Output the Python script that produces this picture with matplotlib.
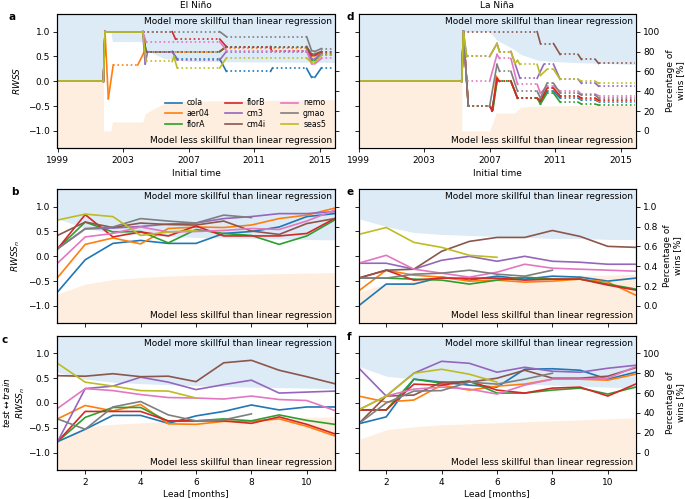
import matplotlib.pyplot as plt
import numpy as np
from matplotlib.lines import Line2D

# ---------------------------------------------------------------- data
models = ["cola", "aer04", "florA", "florB", "cm3", "cm4i", "nemo", "gmao", "seas5"]
colors = ["C0", "C1", "C2", "C3", "C4", "C5", "C6", "C7", "C8"]
leads = np.arange(1, 12)

# panel a: El Nino RWSS vs initial time, breakpoints (year, value)
nino_cola = [(1999, 0), (2001.8, 0), (2001.9, 1), (2004.2, 1), (2004.4, 0.6), (2006.0, 0.6), (2006.3, 0.45),
             (2008.9, 0.45), (2009.3, 0.2), (2012.0, 0.2), (2012.1, 0.26), (2014.2, 0.26), (2014.5, 0.08),
             (2014.7, 0.08), (2015.1, 0.27), (2015.9, 0.27)]
nino_aer04 = [(1999, 0), (2001.8, 0), (2001.9, 1), (2002.1, -0.35), (2002.4, 0.33), (2003.9, 0.33),
              (2004.3, 0.6), (2008.9, 0.6), (2009.2, 0.67), (2014.2, 0.67), (2014.5, 0.5), (2015.1, 0.55),
              (2015.9, 0.55)]
nino_florA = [(1999, 0), (2001.8, 0), (2001.9, 1), (2004.2, 1), (2004.4, 0.6), (2008.9, 0.6), (2009.3, 0.7),
              (2014.2, 0.7), (2014.5, 0.42), (2014.7, 0.42), (2015.1, 0.53), (2015.9, 0.53)]
nino_florB = [(1999, 0), (2001.8, 0), (2001.9, 1), (2004.2, 1), (2006.0, 1), (2006.2, 0.85), (2008.9, 0.85),
              (2009.3, 0.7), (2012.0, 0.7), (2012.05, 0.62), (2014.2, 0.62), (2014.5, 0.52), (2014.7, 0.52),
              (2015.1, 0.6), (2015.9, 0.6)]
nino_cm3 = [(1999, 0), (2001.8, 0), (2001.9, 1), (2004.2, 1), (2004.35, 0.35), (2004.5, 0.6), (2006.0, 0.6),
            (2006.3, 0.43), (2008.9, 0.43), (2009.3, 0.6), (2014.2, 0.6), (2014.5, 0.45), (2014.7, 0.45),
            (2015.1, 0.56), (2015.9, 0.56)]
nino_cm4i = [(1999, 0), (2001.8, 0), (2001.9, 1), (2004.2, 1), (2004.4, 0.6), (2008.9, 0.6), (2009.3, 0.7),
             (2014.2, 0.7), (2014.5, 0.55), (2014.7, 0.55), (2015.1, 0.6), (2015.9, 0.6)]
nino_nemo = [(1999, 0), (2001.8, 0), (2001.9, 1), (2004.2, 1), (2004.4, 0.8), (2008.9, 0.8), (2009.3, 0.62),
             (2014.2, 0.62), (2014.5, 0.35), (2014.7, 0.35), (2015.1, 0.46), (2015.9, 0.46)]
nino_gmao = [(1999, 0), (2001.8, 0), (2001.9, 1), (2004.2, 1), (2008.9, 1), (2009.3, 0.9), (2014.2, 0.9),
             (2014.5, 0.62), (2014.7, 0.6), (2015.1, 0.66), (2015.9, 0.66)]
nino_seas5 = [(1999, 0), (2001.8, 0), (2001.9, 1), (2004.2, 1), (2004.4, 0.4), (2006.0, 0.4), (2006.1, 0.5),
              (2006.3, 0.27), (2008.9, 0.27), (2009.3, 0.47), (2014.2, 0.47), (2014.5, 0.38), (2014.7, 0.38),
              (2015.1, 0.52), (2015.9, 0.52)]

# panel d: La Nina percentage of wins vs initial time
nina_cola = [(1999, 50), (2005.3, 50), (2005.4, 100), (2005.7, 25), (2007.0, 25), (2007.15, 22), (2007.45, 50),
             (2008.3, 50), (2008.7, 33), (2009.9, 33), (2010.1, 29), (2010.5, 40), (2010.9, 40), (2011.3, 33),
             (2012.4, 33), (2012.6, 31), (2013.45, 31), (2013.65, 29.5), (2015.9, 29.5)]
nina_aer04 = [(1999, 50), (2005.3, 50), (2005.4, 100), (2005.7, 25), (2007.0, 25), (2007.2, 22), (2007.4, 55),
              (2007.6, 50), (2008.3, 50), (2008.7, 33), (2009.9, 33), (2010.1, 31), (2010.5, 43), (2010.9, 43),
              (2011.3, 35), (2012.4, 35), (2012.6, 32), (2013.45, 32), (2013.65, 30), (2015.9, 30)]
nina_florA = [(1999, 50), (2005.3, 50), (2005.4, 100), (2005.7, 25), (2007.0, 25), (2007.2, 21), (2007.45, 50),
              (2008.3, 50), (2008.7, 33), (2009.9, 33), (2010.1, 27), (2010.5, 38), (2010.9, 38), (2011.3, 29),
              (2012.4, 29), (2012.6, 27), (2013.45, 27), (2013.65, 26), (2015.9, 26)]
nina_florB = [(1999, 50), (2005.3, 50), (2005.4, 100), (2005.7, 25), (2007.0, 25), (2007.15, 20), (2007.45, 53),
              (2007.6, 50), (2008.3, 50), (2008.7, 33), (2009.9, 33), (2010.1, 30), (2010.5, 43), (2010.9, 43),
              (2011.3, 35), (2012.4, 35), (2012.6, 33), (2013.45, 33), (2013.65, 31), (2015.9, 31)]
nina_cm3 = [(1999, 50), (2005.3, 50), (2005.4, 100), (2005.6, 75), (2007.0, 75), (2007.45, 88), (2007.6, 80),
            (2008.3, 80), (2008.85, 53), (2009.9, 53), (2010.3, 67), (2010.9, 67), (2011.3, 52), (2012.4, 52),
            (2012.6, 48), (2013.45, 48), (2013.65, 45), (2015.9, 45)]
nina_cm4i = [(1999, 50), (2005.3, 50), (2005.4, 100), (2009.9, 100), (2010.1, 88), (2010.9, 88), (2011.3, 77),
             (2012.4, 77), (2012.6, 72), (2013.45, 72), (2013.65, 68), (2015.9, 68)]
nina_nemo = [(1999, 50), (2005.3, 50), (2005.4, 100), (2005.6, 50), (2007.0, 50), (2007.45, 77), (2007.6, 73),
             (2008.3, 73), (2008.7, 47), (2009.9, 47), (2010.1, 38), (2010.5, 45), (2010.9, 45), (2011.3, 40),
             (2012.4, 40), (2012.6, 37), (2013.45, 37), (2013.65, 35.5), (2015.9, 35.5)]
nina_gmao = [(1999, 50), (2005.3, 50), (2005.4, 100), (2005.7, 25), (2007.0, 25), (2007.45, 67), (2007.6, 60),
             (2008.3, 60), (2008.7, 40), (2009.9, 40), (2010.1, 33), (2010.5, 48), (2010.9, 48), (2011.3, 38),
             (2012.4, 38), (2012.6, 36), (2013.45, 36), (2013.65, 33), (2015.9, 33)]
nina_seas5 = [(1999, 50), (2005.3, 50), (2005.4, 100), (2005.6, 75), (2007.0, 75), (2007.45, 88), (2007.6, 80),
              (2008.3, 80), (2008.55, 68), (2008.7, 71), (2008.85, 67), (2009.9, 67), (2010.1, 56), (2010.5, 62),
              (2010.9, 62), (2011.3, 52), (2012.4, 52), (2012.6, 50), (2013.45, 50), (2013.65, 48), (2015.9, 48)]

# significance bands of panels a and d
nino_band_t = [1999, 2001.8, 2001.8, 2002.25, 2002.35, 2004.2, 2004.35, 2004.9, 2005.5, 2007.0, 2015.9]
nino_band_up = [0, 0, 1.0, 1.0, 0.8, 0.8, 0.63, 0.55, 0.46, 0.4, 0.38]
nino_band_lo = [0, 0, -1.0, -1.0, -0.82, -0.82, -0.65, -0.55, -0.45, -0.4, -0.37]
nina_band_t = [1999, 2005.3, 2005.3, 2007.0, 2007.4, 2008.5, 2008.9, 2010.0, 2012.0, 2015.9]
nina_band_up = [50, 50, 100, 100, 92, 82, 77, 71, 69, 67]
nina_band_lo = [50, 50, 0, 0, 18, 18, 24, 25, 25.5, 26]

# panel b: El Nino RWSS_n vs lead
b_cola = [-0.72, -0.07, 0.26, 0.32, 0.26, 0.26, 0.46, 0.5, 0.59, 0.8, 0.86]
b_aer04 = [-0.43, 0.24, 0.37, 0.25, 0.56, 0.59, 0.58, 0.63, 0.76, 0.83, 0.97]
b_florA = [0.15, 0.69, 0.49, 0.5, 0.27, 0.54, 0.46, 0.42, 0.24, 0.41, 0.73]
b_florB = [0.15, 0.84, 0.39, 0.49, 0.41, 0.61, 0.41, 0.41, 0.41, 0.46, 0.76]
b_cm3 = [0.15, 0.55, 0.57, 0.6, 0.65, 0.67, 0.76, 0.8, 0.86, 0.86, 0.9]
b_cm4i = [0.42, 0.69, 0.58, 0.67, 0.64, 0.63, 0.71, 0.51, 0.44, 0.66, 0.76]
b_nemo = [-0.14, 0.39, 0.46, 0.59, 0.49, 0.5, 0.52, 0.56, 0.54, 0.71, 0.93]
b_gmao = [0.15, 0.56, 0.59, 0.76, 0.71, 0.67, 0.83, 0.78]
b_seas5 = [0.73, 0.85, 0.8, 0.42, 0.49, 0.52]
b_band_up = [0.76, 0.56, 0.47, 0.43, 0.40, 0.38, 0.37, 0.36, 0.35, 0.34, 0.33]
b_band_lo = [-0.76, -0.56, -0.47, -0.43, -0.40, -0.38, -0.37, -0.36, -0.35, -0.34, -0.33]

# panel c: El Nino test<->train RWSS_n vs lead
c_cola = [-0.78, -0.53, -0.25, -0.25, -0.41, -0.26, -0.17, -0.04, -0.14, -0.08, -0.08]
c_aer04 = [-0.32, -0.05, -0.16, -0.03, -0.42, -0.43, -0.37, -0.37, -0.32, -0.47, -0.66]
c_florA = [-0.78, -0.29, -0.09, -0.09, -0.37, -0.36, -0.32, -0.36, -0.24, -0.35, -0.43]
c_florB = [-0.78, -0.17, -0.17, -0.17, -0.36, -0.36, -0.36, -0.41, -0.28, -0.43, -0.62]
c_cm3 = [-0.78, 0.29, 0.34, 0.52, 0.42, 0.27, 0.37, 0.46, 0.2, 0.22, 0.24]
c_cm4i = [0.55, 0.54, 0.59, 0.53, 0.54, 0.43, 0.81, 0.86, 0.66, 0.53, 0.39]
c_nemo = [-0.11, 0.29, 0.25, 0.17, 0.11, 0.1, 0.08, 0.14, 0.07, 0.05, -0.15]
c_gmao = [-0.32, -0.53, -0.08, 0.03, -0.24, -0.36, -0.34, -0.22]
c_seas5 = [0.8, 0.42, 0.34, 0.25, 0.24, 0.1]
c_band_up = [0.62, 0.48, 0.42, 0.39, 0.37, 0.35, 0.33, 0.32, 0.31, 0.3, 0.29]
c_band_lo = [-0.74, -0.48, -0.43, -0.4, -0.37, -0.35, -0.33, -0.32, -0.3, -0.29, -0.28]

# panel e: La Nina fraction of wins vs lead
e_cola = [0.0, 0.22, 0.22, 0.29, 0.26, 0.3, 0.27, 0.3, 0.29, 0.25, 0.28]
e_aer04 = [0.15, 0.36, 0.31, 0.29, 0.25, 0.26, 0.24, 0.25, 0.27, 0.24, 0.11]
e_florA = [0.28, 0.28, 0.27, 0.26, 0.22, 0.26, 0.29, 0.27, 0.27, 0.22, 0.17]
e_florB = [0.28, 0.36, 0.26, 0.28, 0.28, 0.28, 0.26, 0.27, 0.27, 0.21, 0.16]
e_cm3 = [0.43, 0.43, 0.37, 0.46, 0.5, 0.45, 0.5, 0.45, 0.44, 0.42, 0.42]
e_cm4i = [0.28, 0.36, 0.37, 0.55, 0.65, 0.69, 0.69, 0.76, 0.7, 0.6, 0.59]
e_nemo = [0.43, 0.51, 0.37, 0.33, 0.29, 0.34, 0.42, 0.38, 0.37, 0.36, 0.35]
e_gmao = [0.28, 0.28, 0.32, 0.33, 0.36, 0.32, 0.3, 0.36]
e_seas5 = [0.72, 0.79, 0.64, 0.59, 0.51, 0.49]
e_band_up = [0.88, 0.8, 0.74, 0.72, 0.71, 0.7, 0.69, 0.68, 0.68, 0.67, 0.67]
e_band_lo = [0.14, 0.22, 0.25, 0.27, 0.28, 0.29, 0.3, 0.3, 0.31, 0.31, 0.32]

# panel f: La Nina test<->train percentage of wins vs lead
f_cola = [29, 36, 74, 71, 68, 66, 84, 84.5, 83, 74, 81]
f_aer04 = [57, 51, 53, 68, 63, 67, 69, 74, 74, 73, 79]
f_florA = [43, 43, 74, 70, 72, 60, 60, 63, 65, 59, 66]
f_florB = [43, 43, 69, 68, 72, 63, 60, 65, 66, 57, 69]
f_cm3 = [85.5, 57, 80, 92, 90, 81, 86, 82, 81, 85, 88]
f_cm4i = [29, 57, 58, 71, 71, 75, 83, 75, 75, 77, 85.5]
f_nemo = [43, 57, 64, 66, 64, 59, 68, 74, 74, 75, 86.5]
f_gmao = [29, 50, 62, 62.5, 71, 69, 74, 80]
f_seas5 = [43, 57, 80, 84, 79, 71]
f_band_up = [87, 77, 74, 72, 71, 70, 69, 68, 67, 66, 65]
f_band_lo = [13, 23, 26, 28, 29, 30, 31, 32, 33, 34, 35]

# ---------------------------------------------------------------- style
FS = 6.5
BLUE = "#ddebf7"
PEACH = "#fdeedf"
LW = 1.2
YLIM = (-1.35, 1.36)
PCT_LIM = ((YLIM[0] + 1) * 50, (YLIM[1] + 1) * 50)
FRAC_LIM = ((YLIM[0] + 1) / 2, (YLIM[1] + 1) / 2)
MORE = "Model more skillful than linear regression"
LESS = "Model less skillful than linear regression"

plt.rcParams["font.size"] = FS
plt.rcParams["axes.linewidth"] = 0.8
plt.rcParams["xtick.major.size"] = 3
plt.rcParams["ytick.major.size"] = 3
plt.rcParams["xtick.major.pad"] = 2.5
plt.rcParams["ytick.major.pad"] = 2.5

fig = plt.figure(figsize=(6.85, 4.99), dpi=100)
W, H = 277 / 685, 134.5 / 499
lefts = [57.5 / 685, 358.5 / 685]
bottoms = [1 - 148.3 / 499, 1 - 323.3 / 499, 1 - 470 / 499]


def make_axes(col, row, right_units):
    ax = fig.add_axes([lefts[col], bottoms[row], W, H])
    ax.set_ylim(*YLIM)
    ax.set_yticks([-1, -0.5, 0, 0.5, 1])
    ax2 = ax.twinx()
    if right_units == "frac":
        ax2.set_ylim(*FRAC_LIM)
        ax2.set_yticks(np.arange(0, 1.01, 0.2))
    else:
        ax2.set_ylim(*PCT_LIM)
        ax2.set_yticks(range(0, 101, 20))
    if col == 0:
        ax2.set_yticklabels([])
        draw_ax = ax
    else:
        ax.set_yticklabels([])
        ax2.set_ylabel("Percentage of\nwins [%]", fontsize=FS)
        draw_ax = ax2
    for a in (ax, ax2):
        a.tick_params(labelsize=FS, width=0.6)
    return ax, ax2, draw_ax


def shade(dax, x, up, lo):
    top, bot = dax.get_ylim()[1], dax.get_ylim()[0]
    dax.fill_between(x, up, top, color=BLUE, lw=0, zorder=0)
    dax.fill_between(x, bot, lo, color=PEACH, lw=0, zorder=0)
    dax.text(0.99, 0.975, MORE, transform=dax.transAxes, ha="right", va="top", fontsize=FS, zorder=1)
    dax.text(0.99, 0.025, LESS, transform=dax.transAxes, ha="right", va="bottom", fontsize=FS, zorder=1)


def draw_steps(dax, pts, color, solid_flats):
    for (t0, v0), (t1, v1) in zip(pts[:-1], pts[1:]):
        ls = "-"
        if v0 == v1:
            ls = ":"
            for s0, s1, sv in solid_flats:
                if v0 == sv and t0 >= s0 - 1e-6 and t1 <= s1 + 1e-6:
                    ls = "-"
        dax.plot([t0, t1], [v0, v1], color=color, lw=LW, ls=ls, zorder=2)


def time_axis(ax):
    ax.set_xlim(1999, 2015.9)
    ax.set_xticks([1999, 2003, 2007, 2011, 2015])
    ax.set_xlabel("Initial time", fontsize=FS, labelpad=3)


def lead_axis(ax, labels):
    ax.set_xlim(1, 11)
    ax.set_xticks([2, 4, 6, 8, 10])
    if labels:
        ax.set_xlabel("Lead [months]", fontsize=FS, labelpad=2)
    else:
        ax.tick_params(labelbottom=False)


# ---------------------------------------------------------------- a
ax, ax2, dax = make_axes(0, 0, "pct")
nino = [nino_cola, nino_aer04, nino_florA, nino_florB, nino_cm3, nino_cm4i, nino_nemo, nino_gmao, nino_seas5]
shade(dax, nino_band_t, nino_band_up, nino_band_lo)
for series, c in zip(nino, colors):
    draw_steps(dax, series, c, [(1999, 2001.8, 0), (2001.9, 2004.2, 1)])
time_axis(ax)
ax.set_ylabel("$RWSS$", fontsize=FS)
ax.set_title("El Niño", fontsize=FS, pad=4)
handles = [Line2D([], [], color=c, lw=LW) for c in colors]
ax2.legend(handles, models, ncol=3, loc="lower right", bbox_to_anchor=(0.975, 0.135), frameon=False,
           fontsize=FS - 0.8, labelspacing=0.2, handlelength=2.2, handletextpad=0.6, columnspacing=1.9,
           borderpad=0.2, borderaxespad=0)

# ---------------------------------------------------------------- d
ax, ax2, dax = make_axes(1, 0, "pct")
nina = [nina_cola, nina_aer04, nina_florA, nina_florB, nina_cm3, nina_cm4i, nina_nemo, nina_gmao, nina_seas5]
shade(dax, nina_band_t, nina_band_up, nina_band_lo)
for series, c in zip(nina, colors):
    draw_steps(dax, series, c, [(1999, 2005.3, 50)])
time_axis(ax)
ax.set_title("La Niña", fontsize=FS, pad=4)

# ---------------------------------------------------------------- b, c, e, f
lead_panels = [
    (0, 1, "pct", [b_cola, b_aer04, b_florA, b_florB, b_cm3, b_cm4i, b_nemo, b_gmao, b_seas5],
     b_band_up, b_band_lo, "$RWSS_n$", False),
    (0, 2, "pct", [c_cola, c_aer04, c_florA, c_florB, c_cm3, c_cm4i, c_nemo, c_gmao, c_seas5],
     c_band_up, c_band_lo, "$test \\leftrightarrow train$\n$RWSS_n$", True),
    (1, 1, "frac", [e_cola, e_aer04, e_florA, e_florB, e_cm3, e_cm4i, e_nemo, e_gmao, e_seas5],
     e_band_up, e_band_lo, None, False),
    (1, 2, "pct", [f_cola, f_aer04, f_florA, f_florB, f_cm3, f_cm4i, f_nemo, f_gmao, f_seas5],
     f_band_up, f_band_lo, None, True),
]
for col, row, units, series_list, up, lo, ylabel, xlab in lead_panels:
    ax, ax2, dax = make_axes(col, row, units)
    shade(dax, leads, up, lo)
    for vals, c in zip(series_list, colors):
        dax.plot(leads[:len(vals)], vals, color=c, lw=LW, zorder=2)
    lead_axis(ax, xlab)
    if ylabel:
        ax.set_ylabel(ylabel, fontsize=FS, labelpad=1 if row == 2 else 4)

# panel letters
for letter, (px, py) in zip("abcdef", [(12, 17), (15, 192), (5, 340), (350, 17), (350, 192), (349, 337)]):
    fig.text(px / 685, 1 - py / 499, letter, fontsize=FS + 1, fontweight="bold", ha="center", va="center")

fig.savefig("out.png", dpi=100)
